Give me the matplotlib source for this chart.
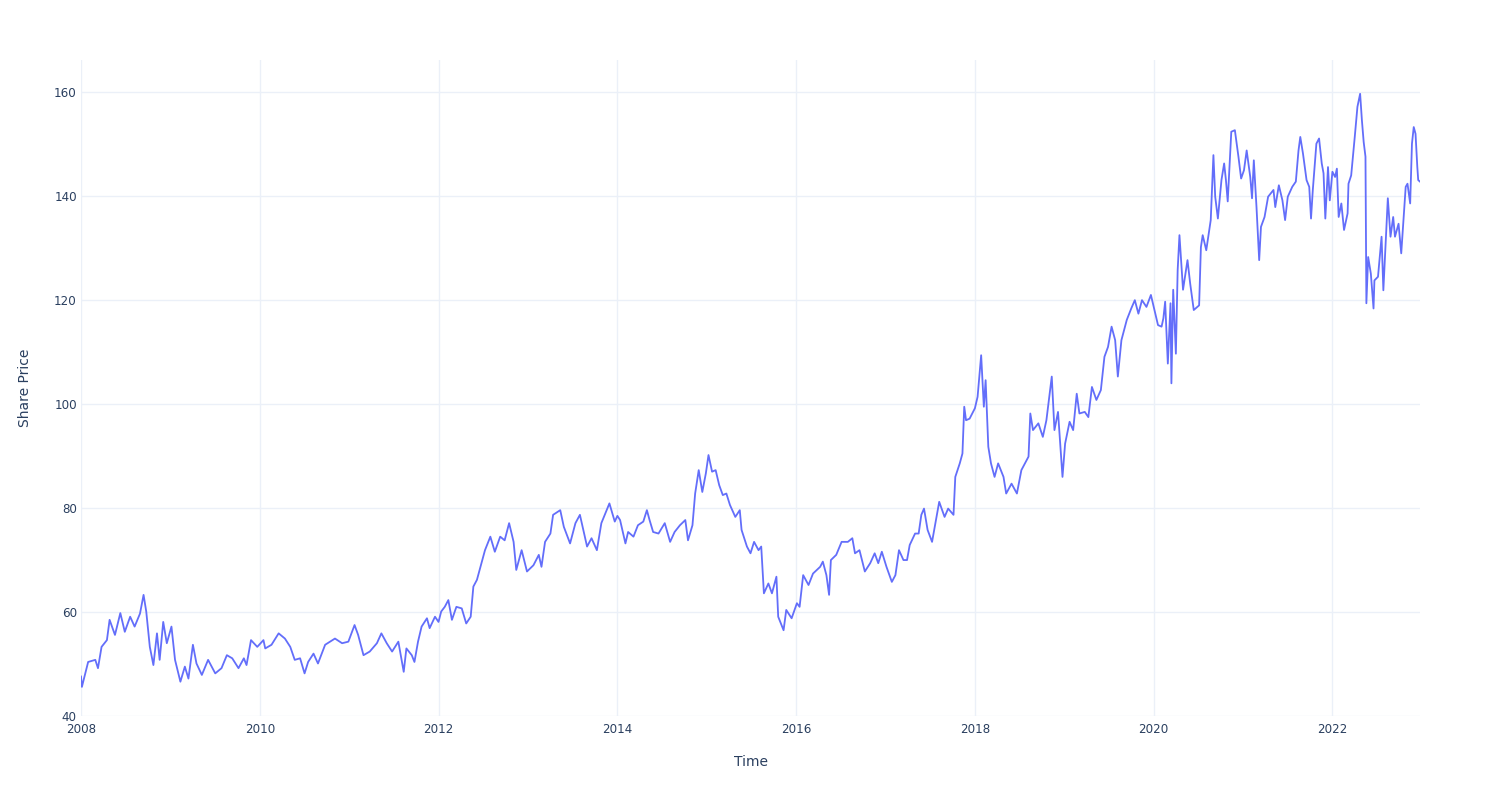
import pandas as pd
import matplotlib
matplotlib.use("Agg")
import matplotlib.pyplot as plt
import matplotlib.dates as mdates

# Share price, time as decimal year
t_year = [
    2008.00, 2008.01, 2008.08, 2008.16, 2008.19, 2008.23, 2008.29, 2008.32, 2008.38, 2008.44,
    2008.49, 2008.55, 2008.60, 2008.66, 2008.70, 2008.73, 2008.77, 2008.81, 2008.85, 2008.88,
    2008.92, 2008.96, 2009.01, 2009.05, 2009.11, 2009.16, 2009.20, 2009.25, 2009.29, 2009.35,
    2009.42, 2009.50, 2009.57, 2009.63, 2009.69, 2009.76, 2009.82, 2009.85, 2009.90, 2009.97,
    2010.04, 2010.06, 2010.13, 2010.21, 2010.28, 2010.34, 2010.39, 2010.45, 2010.50, 2010.54,
    2010.60, 2010.65, 2010.73, 2010.84, 2010.92, 2010.99, 2011.06, 2011.10, 2011.16, 2011.23,
    2011.31, 2011.36, 2011.42, 2011.48, 2011.55, 2011.61, 2011.64, 2011.70, 2011.73, 2011.77,
    2011.81, 2011.87, 2011.90, 2011.96, 2012.00, 2012.03, 2012.07, 2012.11, 2012.15, 2012.20,
    2012.26, 2012.31, 2012.36, 2012.39, 2012.43, 2012.46, 2012.52, 2012.58, 2012.63, 2012.69,
    2012.74, 2012.79, 2012.84, 2012.87, 2012.93, 2012.99, 2013.06, 2013.12, 2013.15, 2013.19,
    2013.25, 2013.28, 2013.36, 2013.40, 2013.47, 2013.53, 2013.58, 2013.66, 2013.71, 2013.77,
    2013.82, 2013.91, 2013.97, 2014.00, 2014.03, 2014.09, 2014.12, 2014.18, 2014.23, 2014.29,
    2014.33, 2014.36, 2014.40, 2014.46, 2014.53, 2014.59, 2014.64, 2014.70, 2014.76, 2014.79,
    2014.84, 2014.87, 2014.91, 2014.95, 2014.99, 2015.02, 2015.06, 2015.10, 2015.14, 2015.18,
    2015.22, 2015.26, 2015.32, 2015.37, 2015.39, 2015.45, 2015.49, 2015.53, 2015.58, 2015.61,
    2015.64, 2015.69, 2015.73, 2015.78, 2015.80, 2015.86, 2015.89, 2015.95, 2016.01, 2016.04,
    2016.08, 2016.14, 2016.19, 2016.27, 2016.30, 2016.34, 2016.37, 2016.39, 2016.45, 2016.51,
    2016.58, 2016.63, 2016.66, 2016.71, 2016.77, 2016.83, 2016.88, 2016.92, 2016.96, 2017.01,
    2017.07, 2017.11, 2017.15, 2017.20, 2017.24, 2017.27, 2017.33, 2017.37, 2017.40, 2017.43,
    2017.47, 2017.52, 2017.55, 2017.60, 2017.66, 2017.70, 2017.76, 2017.78, 2017.83, 2017.86,
    2017.88, 2017.90, 2017.94, 2018.00, 2018.03, 2018.07, 2018.10, 2018.12, 2018.15, 2018.18,
    2018.22, 2018.26, 2018.32, 2018.35, 2018.41, 2018.47, 2018.52, 2018.60, 2018.62, 2018.65,
    2018.71, 2018.76, 2018.80, 2018.86, 2018.89, 2018.93, 2018.98, 2019.01, 2019.06, 2019.10,
    2019.14, 2019.17, 2019.23, 2019.27, 2019.31, 2019.36, 2019.41, 2019.45, 2019.49, 2019.53,
    2019.57, 2019.60, 2019.64, 2019.70, 2019.75, 2019.79, 2019.83, 2019.87, 2019.92, 2019.97,
    2020.01, 2020.05, 2020.09, 2020.11, 2020.13, 2020.16, 2020.19, 2020.20, 2020.22, 2020.25,
    2020.27, 2020.29, 2020.33, 2020.38, 2020.41, 2020.45, 2020.51, 2020.53, 2020.55, 2020.59,
    2020.64, 2020.67, 2020.69, 2020.72, 2020.76, 2020.79, 2020.81, 2020.83, 2020.87, 2020.91,
    2020.95, 2020.98, 2021.01, 2021.04, 2021.08, 2021.10, 2021.12, 2021.15, 2021.18, 2021.20,
    2021.24, 2021.28, 2021.34, 2021.36, 2021.40, 2021.44, 2021.47, 2021.50, 2021.55, 2021.59,
    2021.62, 2021.64, 2021.67, 2021.71, 2021.74, 2021.76, 2021.78, 2021.82, 2021.85, 2021.88,
    2021.90, 2021.92, 2021.95, 2021.97, 2022.00, 2022.03, 2022.05, 2022.07, 2022.10, 2022.13,
    2022.17, 2022.18, 2022.21, 2022.25, 2022.28, 2022.31, 2022.33, 2022.35, 2022.37, 2022.38,
    2022.40, 2022.43, 2022.46, 2022.47, 2022.51, 2022.55, 2022.57, 2022.59, 2022.62, 2022.65,
    2022.68, 2022.70, 2022.74, 2022.77, 2022.79, 2022.82, 2022.84, 2022.87, 2022.89, 2022.91,
    2022.93, 2022.95, 2022.96, 2022.98,
]
price = [
    47.6, 45.6, 50.4, 50.8, 49.2, 53.3, 54.6, 58.5, 55.6, 59.8,
    56.2, 59.1, 57.2, 59.7, 63.3, 60.1, 53.3, 49.8, 55.9, 50.8,
    58.1, 54.0, 57.2, 50.8, 46.6, 49.5, 47.2, 53.7, 50.1, 47.9,
    50.8, 48.2, 49.2, 51.7, 51.1, 49.2, 51.1, 49.8, 54.6, 53.3,
    54.6, 53.0, 53.7, 55.9, 54.9, 53.3, 50.8, 51.1, 48.2, 50.4,
    52.0, 50.1, 53.7, 54.9, 54.0, 54.3, 57.5, 55.6, 51.7, 52.4,
    54.0, 55.9, 54.0, 52.4, 54.3, 48.5, 53.0, 51.7, 50.4, 54.3,
    57.2, 58.8, 56.9, 59.1, 58.1, 60.1, 61.0, 62.3, 58.5, 61.0,
    60.7, 57.8, 59.1, 64.9, 66.2, 68.1, 71.9, 74.5, 71.6, 74.5,
    73.8, 77.1, 73.5, 68.1, 71.9, 67.8, 69.0, 71.0, 68.7, 73.5,
    75.1, 78.7, 79.6, 76.4, 73.2, 77.1, 78.7, 72.6, 74.2, 71.9,
    77.1, 80.9, 77.4, 78.5, 77.7, 73.2, 75.4, 74.5, 76.7, 77.4,
    79.6, 77.7, 75.4, 75.1, 77.1, 73.5, 75.4, 76.7, 77.7, 73.8,
    76.7, 82.8, 87.3, 83.1, 86.7, 90.2, 87.0, 87.3, 84.4, 82.5,
    82.8, 80.6, 78.3, 79.6, 75.8, 72.6, 71.3, 73.5, 71.9, 72.6,
    63.6, 65.5, 63.6, 66.8, 59.1, 56.5, 60.4, 58.8, 61.7, 61.0,
    67.1, 65.2, 67.4, 68.7, 69.7, 67.1, 63.3, 70.0, 71.0, 73.5,
    73.5, 74.2, 71.3, 71.9, 67.8, 69.4, 71.3, 69.4, 71.6, 68.7,
    65.8, 67.1, 71.9, 70.0, 70.0, 72.9, 75.1, 75.1, 78.7, 79.9,
    75.8, 73.5, 76.4, 81.2, 78.3, 79.9, 78.7, 86.0, 88.6, 90.5,
    99.5, 96.9, 97.2, 99.2, 101.4, 109.4, 99.5, 104.6, 91.8, 88.6,
    86.0, 88.6, 86.0, 82.8, 84.7, 82.8, 87.3, 89.9, 98.2, 95.0,
    96.3, 93.7, 96.9, 105.3, 95.0, 98.5, 86.0, 92.4, 96.6, 95.0,
    102.0, 98.2, 98.5, 97.5, 103.3, 100.8, 102.7, 109.1, 111.0, 114.9,
    112.3, 105.3, 112.3, 116.2, 118.4, 120.0, 117.4, 120.0, 118.7, 121.0,
    118.1, 115.2, 114.9, 116.5, 119.7, 107.8, 119.4, 104.0, 122.0, 109.7,
    125.8, 132.5, 122.0, 127.7, 123.2, 118.1, 119.0, 130.2, 132.5, 129.6,
    135.4, 147.9, 139.9, 135.7, 143.1, 146.3, 143.1, 139.0, 152.4, 152.7,
    147.6, 143.4, 145.0, 148.8, 143.7, 139.6, 146.9, 137.9, 127.7, 134.1,
    136.0, 139.9, 141.2, 137.9, 142.1, 139.2, 135.4, 139.9, 141.8, 142.8,
    148.8, 151.4, 148.2, 143.1, 141.8, 135.7, 141.2, 150.1, 151.1, 146.3,
    144.4, 135.7, 145.6, 139.2, 144.7, 143.7, 145.3, 136.0, 138.6, 133.5,
    136.7, 142.4, 144.0, 151.4, 157.2, 159.7, 154.6, 150.4, 147.6, 119.4,
    128.3, 125.1, 118.4, 123.8, 124.5, 132.2, 121.9, 129.0, 139.6, 132.2,
    136.0, 132.2, 134.7, 129.0, 134.1, 141.8, 142.4, 138.6, 150.1, 153.3,
    152.0, 145.6, 143.1, 142.8,
]

dates = [pd.Timestamp(int(t), 1, 1) + pd.Timedelta(days=(t - int(t)) * 365.25) for t in t_year]

plt.rcParams["font.family"] = "DejaVu Sans"
text_col = "#2a3f5f"
grid_col = "#ebf0f8"

fig = plt.figure(figsize=(15, 8), dpi=100)
ax = fig.add_axes([81 / 1500, 84 / 800, (1420 - 81) / 1500, (716 - 60) / 800])

ax.plot(dates, price, color="#636efa", linewidth=1.3)

ax.set_xlim(dates[0], dates[-1])
ax.set_ylim(40, 166.2)
ax.set_yticks(range(40, 161, 20))
ax.xaxis.set_major_locator(mdates.YearLocator(2))
ax.xaxis.set_major_formatter(mdates.DateFormatter("%Y"))

ax.grid(True, color=grid_col, linewidth=1)
ax.set_axisbelow(True)
for s in ax.spines.values():
    s.set_visible(False)
ax.tick_params(axis="both", length=0, labelsize=8.6, colors=text_col)
ax.tick_params(axis="y", pad=3)
ax.tick_params(axis="x", pad=5)

ax.set_xlabel("Time", fontsize=10, color=text_col, labelpad=14)
ax.set_ylabel("Share Price", fontsize=10, color=text_col, labelpad=16)

fig.savefig("out.png", dpi=100, facecolor="white")
